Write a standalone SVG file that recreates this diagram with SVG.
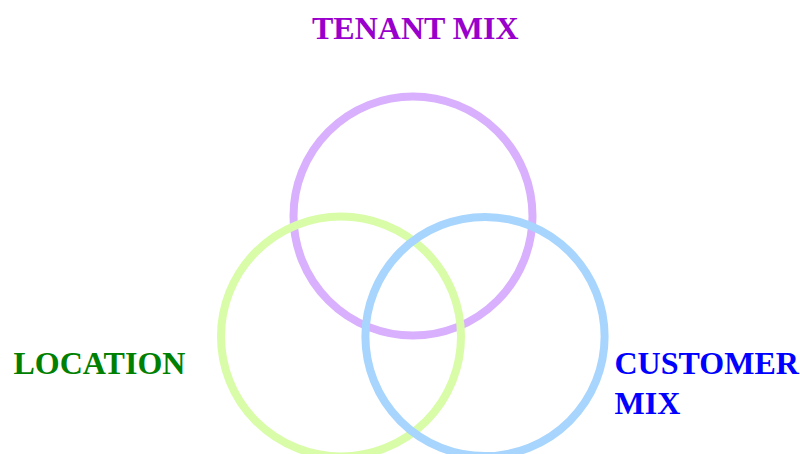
<svg xmlns="http://www.w3.org/2000/svg" width="800" height="454" viewBox="0 0 800 454">
<style>
.c{fill:none;stroke-width:8}
.t{font-family:"Liberation Serif","Times New Roman",serif;font-weight:bold;font-size:32px}
</style>
<rect width="800" height="454" fill="#ffffff"/>
<g id="tenant">
<circle class="c" cx="413" cy="216" r="119.5" stroke="#D9B0FD"/>
<text class="t" x="312" y="38.5" fill="#9900CC">TENANT MIX</text>
</g>
<g id="location">
<circle class="c" cx="341" cy="336.5" r="120" stroke="#D9FCA8"/>
<text class="t" x="13.5" y="374" fill="#008000">LOCATION</text>
</g>
<g id="customer">
<circle class="c" cx="485" cy="336.5" r="119.6" stroke="#A8D5FD"/>
<text class="t" x="614.5" y="374" fill="#0000FF">CUSTOMER<tspan x="614.5" y="413.5">MIX</tspan></text>
</g>
<g id="connectors"/>
</svg>
